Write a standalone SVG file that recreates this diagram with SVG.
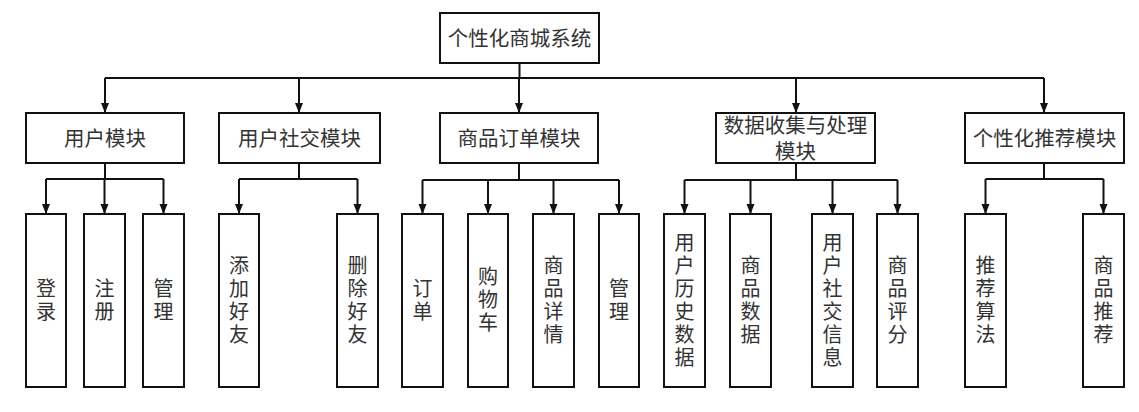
<svg xmlns="http://www.w3.org/2000/svg" width="1139" height="412" viewBox="0 0 1139 412">
<style>
.box{fill:#fff;stroke:#111;stroke-width:2}
.lbl{font-family:"Liberation Sans","Noto Sans CJK SC",sans-serif;font-size:20.5px;fill:#333;text-anchor:middle;dominant-baseline:central}
.vt{font-family:"Liberation Sans","Noto Sans CJK SC",sans-serif;font-size:20px;fill:#333;text-anchor:middle;dominant-baseline:central}
.ln{fill:none;stroke:#111;stroke-width:2}
</style>
<defs>
<marker id="arr" viewBox="0 0 10 10" refX="10" refY="5" markerWidth="10" markerHeight="10" markerUnits="userSpaceOnUse" orient="auto">
<path d="M0,1 L10,5 L0,9 Z" fill="#111"/>
</marker>
</defs>
<rect width="1139" height="412" fill="#fff"/>

<g id="connectors">
<path class="ln" d="M519.5,63 V78 M105,78 H1044"/>
<path class="ln" marker-end="url(#arr)" d="M105,78 V113"/>
<path class="ln" marker-end="url(#arr)" d="M299,78 V113"/>
<path class="ln" marker-end="url(#arr)" d="M519,78 V113"/>
<path class="ln" marker-end="url(#arr)" d="M796,78 V113"/>
<path class="ln" marker-end="url(#arr)" d="M1044,78 V113"/>

<path class="ln" d="M105,163 V179 M46,179 H163.5"/>
<path class="ln" marker-end="url(#arr)" d="M46,179 V214"/>
<path class="ln" marker-end="url(#arr)" d="M104.5,179 V214"/>
<path class="ln" marker-end="url(#arr)" d="M163.5,179 V214"/>

<path class="ln" d="M299,163 V179 M239,179 H357.5"/>
<path class="ln" marker-end="url(#arr)" d="M239,179 V214"/>
<path class="ln" marker-end="url(#arr)" d="M357.5,179 V214"/>

<path class="ln" d="M519,163 V180 M422.5,180 H619"/>
<path class="ln" marker-end="url(#arr)" d="M422.5,180 V214"/>
<path class="ln" marker-end="url(#arr)" d="M488,180 V214"/>
<path class="ln" marker-end="url(#arr)" d="M553.5,180 V214"/>
<path class="ln" marker-end="url(#arr)" d="M619,180 V214"/>

<path class="ln" d="M796,163 V180 M684.5,180 H897.5"/>
<path class="ln" marker-end="url(#arr)" d="M684.5,180 V214"/>
<path class="ln" marker-end="url(#arr)" d="M750.5,180 V214"/>
<path class="ln" marker-end="url(#arr)" d="M832.5,180 V214"/>
<path class="ln" marker-end="url(#arr)" d="M897.5,180 V214"/>

<path class="ln" d="M1044,163 V179 M985.5,179 H1103.5"/>
<path class="ln" marker-end="url(#arr)" d="M985.5,179 V214"/>
<path class="ln" marker-end="url(#arr)" d="M1103.5,179 V214"/>
</g>

<g id="root"><rect class="box" x="440" y="13" width="159" height="50"/><text class="lbl" x="519.5" y="38">个性化商城系统</text></g>

<g id="m-user"><rect class="box" x="26" y="113" width="158" height="50"/><text class="lbl" x="105" y="138">用户模块</text></g>
<g id="m-social"><rect class="box" x="219" y="113" width="161" height="50"/><text class="lbl" x="299.5" y="138">用户社交模块</text></g>
<g id="m-order"><rect class="box" x="440" y="113" width="158" height="50"/><text class="lbl" x="519" y="138">商品订单模块</text></g>
<g id="m-data"><rect class="box" x="716" y="113" width="159" height="50"/><text class="lbl" x="795.5" y="125">数据收集与处理</text><text class="lbl" x="795.5" y="151.5">模块</text></g>
<g id="m-rec"><rect class="box" x="965" y="113" width="159" height="50"/><text class="lbl" x="1044.5" y="138">个性化推荐模块</text></g>

<g id="l-login"><rect class="box" x="26" y="214" width="40" height="173"/><text class="vt"><tspan x="46" y="289">登</tspan><tspan x="46" y="312">录</tspan></text></g>
<g id="l-register"><rect class="box" x="84" y="214" width="41" height="173"/><text class="vt"><tspan x="104.5" y="289">注</tspan><tspan x="104.5" y="312">册</tspan></text></g>
<g id="l-manage1"><rect class="box" x="143" y="214" width="41" height="173"/><text class="vt"><tspan x="163.5" y="289">管</tspan><tspan x="163.5" y="312">理</tspan></text></g>

<g id="l-add"><rect class="box" x="219" y="214" width="40" height="173"/><text class="vt"><tspan x="239" y="266">添</tspan><tspan x="239" y="289">加</tspan><tspan x="239" y="312">好</tspan><tspan x="239" y="335">友</tspan></text></g>
<g id="l-del"><rect class="box" x="337" y="214" width="41" height="173"/><text class="vt"><tspan x="357.5" y="266">删</tspan><tspan x="357.5" y="289">除</tspan><tspan x="357.5" y="312">好</tspan><tspan x="357.5" y="335">友</tspan></text></g>

<g id="l-order"><rect class="box" x="402" y="214" width="41" height="173"/><text class="vt"><tspan x="422.5" y="289">订</tspan><tspan x="422.5" y="312">单</tspan></text></g>
<g id="l-cart"><rect class="box" x="468" y="214" width="40" height="173"/><text class="vt"><tspan x="488" y="277">购</tspan><tspan x="488" y="300">物</tspan><tspan x="488" y="323">车</tspan></text></g>
<g id="l-detail"><rect class="box" x="533" y="214" width="41" height="173"/><text class="vt"><tspan x="553.5" y="266">商</tspan><tspan x="553.5" y="289">品</tspan><tspan x="553.5" y="312">详</tspan><tspan x="553.5" y="335">情</tspan></text></g>
<g id="l-manage2"><rect class="box" x="599" y="214" width="40" height="173"/><text class="vt"><tspan x="619" y="289">管</tspan><tspan x="619" y="312">理</tspan></text></g>

<g id="l-history"><rect class="box" x="664" y="214" width="41" height="173"/><text class="vt"><tspan x="684.5" y="243">用</tspan><tspan x="684.5" y="266">户</tspan><tspan x="684.5" y="289">历</tspan><tspan x="684.5" y="312">史</tspan><tspan x="684.5" y="335">数</tspan><tspan x="684.5" y="358">据</tspan></text></g>
<g id="l-goodsdata"><rect class="box" x="730" y="214" width="41" height="173"/><text class="vt"><tspan x="750.5" y="266">商</tspan><tspan x="750.5" y="289">品</tspan><tspan x="750.5" y="312">数</tspan><tspan x="750.5" y="335">据</tspan></text></g>
<g id="l-socialinfo"><rect class="box" x="812" y="214" width="41" height="173"/><text class="vt"><tspan x="832.5" y="243">用</tspan><tspan x="832.5" y="266">户</tspan><tspan x="832.5" y="289">社</tspan><tspan x="832.5" y="312">交</tspan><tspan x="832.5" y="335">信</tspan><tspan x="832.5" y="358">息</tspan></text></g>
<g id="l-rating"><rect class="box" x="877" y="214" width="41" height="173"/><text class="vt"><tspan x="897.5" y="266">商</tspan><tspan x="897.5" y="289">品</tspan><tspan x="897.5" y="312">评</tspan><tspan x="897.5" y="335">分</tspan></text></g>

<g id="l-algo"><rect class="box" x="965" y="214" width="41" height="173"/><text class="vt"><tspan x="985.5" y="266">推</tspan><tspan x="985.5" y="289">荐</tspan><tspan x="985.5" y="312">算</tspan><tspan x="985.5" y="335">法</tspan></text></g>
<g id="l-recgoods"><rect class="box" x="1083" y="214" width="41" height="173"/><text class="vt"><tspan x="1103.5" y="266">商</tspan><tspan x="1103.5" y="289">品</tspan><tspan x="1103.5" y="312">推</tspan><tspan x="1103.5" y="335">荐</tspan></text></g>
</svg>
